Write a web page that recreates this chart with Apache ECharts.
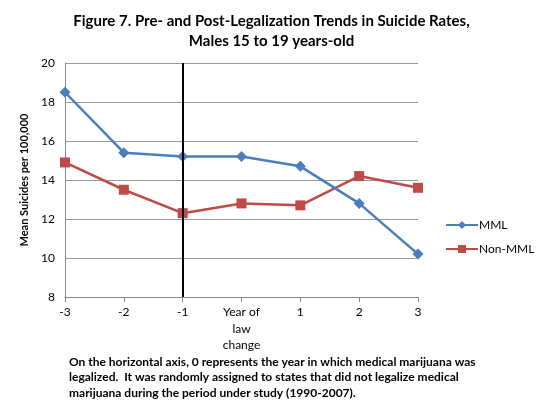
<!DOCTYPE html>
<html>
<head>
<meta charset="utf-8">
<script src="https://cdn.jsdelivr.net/npm/echarts@6/dist/echarts.min.js"></script>
<style>
  html, body { margin: 0; padding: 0; background: #fff; }
  #chart { width: 543px; height: 415px; }
</style>
</head>
<body>
<div id="chart"></div>
<script>
// data
var years = ['-3', '-2', '-1', 'Year of\nlaw\nchange', '1', '2', '3'];
var mml = [18.5, 15.4, 15.2, 15.2, 14.7, 12.8, 10.2];
var nonMml = [14.9, 13.5, 12.3, 12.8, 12.7, 14.2, 13.6];
var yTicks = [8, 20, 2]; // min, max, step

var font = 'Lato, "Open Sans", sans-serif';
var chart = echarts.init(document.getElementById('chart'));

var option = {
  backgroundColor: '#ffffff',
  animation: false,
  textStyle: { fontFamily: font },
  title: {
    text: 'Figure 7. Pre- and Post-Legalization Trends in Suicide Rates,\nMales 15 to 19 years-old',
    left: 'center',
    top: 6,
    textStyle: {
      fontFamily: font,
      fontSize: 15,
      fontWeight: 'bold',
      color: '#000',
      lineHeight: 20,
      align: 'center'
    }
  },
  legend: {
    orient: 'vertical',
    left: 440,
    top: 214,
    itemGap: 12,
    itemWidth: 32,
    itemHeight: 10,
    textStyle: { fontFamily: font, fontSize: 12, color: '#000', padding: [0, 0, 0, -4] },
    data: ['MML', 'Non-MML']
  },
  grid: { left: 65, right: 125, top: 63, bottom: 118 },
  xAxis: {
    type: 'category',
    data: years,
    boundaryGap: false,
    axisLine: { lineStyle: { color: '#888', width: 1 } },
    axisTick: { show: true, lineStyle: { color: '#888' }, length: 5 },
    axisLabel: { color: '#000', fontSize: 12, fontFamily: font, margin: 7, lineHeight: 16.5, interval: 0 },
    splitLine: { show: false }
  },
  yAxis: {
    type: 'value',
    min: yTicks[0],
    max: yTicks[1],
    interval: yTicks[2],
    name: 'Mean Suicides per 100,000',
    nameLocation: 'middle',
    nameGap: 32,
    nameTextStyle: { fontFamily: font, fontSize: 11, fontWeight: 'bold', color: '#000' },
    axisLine: { show: true, lineStyle: { color: '#888' } },
    axisTick: { show: false },
    axisLabel: { color: '#000', fontSize: 12, fontFamily: font, margin: 10 },
    splitLine: { lineStyle: { color: '#999', width: 1 } }
  },
  series: [
    {
      name: 'MML',
      type: 'line',
      data: mml,
      symbol: 'diamond',
      symbolSize: 11,
      color: '#4a7ebb',
      lineStyle: { width: 2.5 },
      z: 3,
      markLine: {
        silent: true,
        symbol: 'none',
        label: { show: false },
        lineStyle: { color: '#000', width: 2, type: 'solid' },
        data: [{ xAxis: '-1' }]
      }
    },
    {
      name: 'Non-MML',
      type: 'line',
      data: nonMml,
      symbol: 'rect',
      symbolSize: 10,
      color: '#be4b48',
      lineStyle: { width: 2.5 },
      z: 2
    }
  ],
  graphic: [
    {
      type: 'text',
      left: 69,
      top: 354,
      style: {
        text: 'On the horizontal axis, 0 represents the year in which medical marijuana was\nlegalized.  It was randomly assigned to states that did not legalize medical\nmarijuana during the period under study (1990-2007).',
        font: 'bold 12px ' + font,
        fill: '#000',
        lineHeight: 15.5
      }
    }
  ]
};

chart.setOption(option);
</script>
</body>
</html>
